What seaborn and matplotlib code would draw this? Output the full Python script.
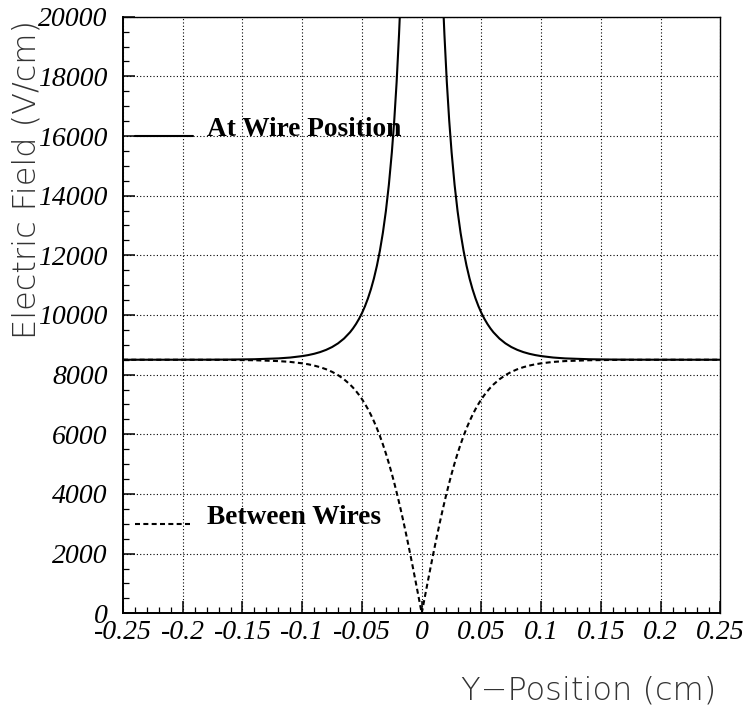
import matplotlib
matplotlib.use("Agg")
import matplotlib.pyplot as plt
from matplotlib.ticker import MultipleLocator
import seaborn as sns
import pandas as pd

# Field strength along a line through a wire (solid) and midway between wires (dashed)
wire_pos = [-0.25, -0.2, -0.18, -0.16, -0.14, -0.12, -0.11, -0.1, -0.095, -0.09,
            -0.085, -0.08, -0.075, -0.07, -0.065, -0.06, -0.0575, -0.055, -0.0525,
            -0.05, -0.0475, -0.045, -0.0425, -0.04, -0.0375, -0.035, -0.0325,
            -0.03, -0.0275, -0.025, -0.023, -0.021, -0.019, -0.018, -0.017,
            0.017, 0.018, 0.019, 0.021, 0.023, 0.025, 0.0275, 0.03, 0.0325, 0.035,
            0.0375, 0.04, 0.0425, 0.045, 0.0475, 0.05, 0.0525, 0.055, 0.0575,
            0.06, 0.065, 0.07, 0.075, 0.08, 0.085, 0.09, 0.095, 0.1, 0.11,
            0.12, 0.14, 0.16, 0.18, 0.2, 0.25]
wire_field = [8500, 8501, 8502, 8506, 8517, 8545, 8574, 8622, 8656, 8700,
              8757, 8831, 8926, 9050, 9211, 9421, 9550, 9698, 9868,
              10064, 10292, 10557, 10865, 11226, 11652, 12156, 12758,
              13483, 14365, 15454, 16518, 17808, 19398, 20335, 21390,
              21390, 20335, 19398, 17808, 16518, 15454, 14365, 13483, 12758, 12156,
              11652, 11226, 10865, 10557, 10292, 10064, 9868, 9698, 9550,
              9421, 9211, 9050, 8926, 8831, 8757, 8700, 8656, 8622, 8574,
              8545, 8517, 8506, 8502, 8501, 8500]

between_pos = [-0.25, -0.2, -0.18, -0.16, -0.14, -0.12, -0.11, -0.1, -0.095, -0.09,
               -0.085, -0.08, -0.075, -0.07, -0.065, -0.06, -0.0575, -0.055,
               -0.0525, -0.05, -0.0475, -0.045, -0.0425, -0.04, -0.0375, -0.035,
               -0.0325, -0.03, -0.0275, -0.025, -0.0225, -0.02, -0.0175, -0.015,
               -0.0125, -0.01, -0.0075, -0.005, -0.0025,
               0.0,
               0.0025, 0.005, 0.0075, 0.01, 0.0125, 0.015, 0.0175, 0.02, 0.0225,
               0.025, 0.0275, 0.03, 0.0325, 0.035, 0.0375, 0.04, 0.0425, 0.045,
               0.0475, 0.05, 0.0525, 0.055, 0.0575, 0.06, 0.065, 0.07, 0.075,
               0.08, 0.085, 0.09, 0.095, 0.1, 0.11, 0.12, 0.14, 0.16, 0.18, 0.2,
               0.25]
between_field = [8500, 8499, 8498, 8494, 8483, 8455, 8427, 8380, 8347, 8304,
                 8250, 8181, 8094, 7984, 7844, 7669, 7566, 7450,
                 7322, 7179, 7020, 6844, 6650, 6436, 6201, 5944,
                 5663, 5359, 5029, 4675, 4296, 3893, 3466, 3017,
                 2548, 2061, 1559, 1046, 525,
                 0,
                 525, 1046, 1559, 2061, 2548, 3017, 3466, 3893, 4296,
                 4675, 5029, 5359, 5663, 5944, 6201, 6436, 6650, 6844,
                 7020, 7179, 7322, 7450, 7566, 7669, 7844, 7984, 8094,
                 8181, 8250, 8304, 8347, 8380, 8427, 8455, 8483, 8494, 8498, 8499,
                 8500]

x_ticks = [-0.25, -0.2, -0.15, -0.1, -0.05, 0, 0.05, 0.1, 0.15, 0.2, 0.25]
x_tick_labels = ["-0.25", "-0.2", "-0.15", "-0.1", "-0.05", "0",
                 "0.05", "0.1", "0.15", "0.2", "0.25"]
y_ticks = [0, 2000, 4000, 6000, 8000, 10000, 12000, 14000, 16000, 18000, 20000]
y_tick_labels = ["0", "2000", "4000", "6000", "8000", "10000",
                 "12000", "14000", "16000", "18000", "20000"]

series_names = ["At Wire Position", "Between Wires"]

wire_df = pd.DataFrame({"y": wire_pos, "E": wire_field})
between_df = pd.DataFrame({"y": between_pos, "E": between_field})

sns.set_style("white")
plt.rcParams["axes.unicode_minus"] = False
plt.rcParams["text.color"] = "black"
plt.rcParams["xtick.color"] = "black"
plt.rcParams["ytick.color"] = "black"

fig = plt.figure(figsize=(7.48, 7.19), dpi=100)
ax = fig.add_axes([0.1644, 0.1470, 0.7988, 0.8298])

dash_style = (0, (2.4, 1.6))

sns.lineplot(data=wire_df, x="y", y="E", ax=ax, color="black", lw=1.5,
             sort=False, estimator=None)
sns.lineplot(data=between_df, x="y", y="E", ax=ax, color="black", lw=1.5,
             linestyle=dash_style, sort=False, estimator=None)

ax.set_xlim(-0.25, 0.25)
ax.set_ylim(0, 20000)
ax.set_xlabel("")
ax.set_ylabel("")

ax.set_xticks(x_ticks)
ax.set_xticklabels(x_tick_labels)
ax.set_yticks(y_ticks)
ax.set_yticklabels(y_tick_labels)
ax.xaxis.set_minor_locator(MultipleLocator(0.01))
ax.yaxis.set_minor_locator(MultipleLocator(500))

ax.tick_params(axis="both", which="both", direction="in", color="black",
               bottom=True, left=True, top=False, right=False)
ax.tick_params(axis="both", which="major", length=8.5, width=1.1,
               labelsize=20, labelcolor="black")
ax.tick_params(axis="both", which="minor", length=4, width=0.9)
ax.tick_params(axis="x", which="major", pad=5)
ax.tick_params(axis="y", which="major", pad=11)
for lab in ax.get_xticklabels() + ax.get_yticklabels():
    lab.set_fontfamily("Liberation Serif")
    lab.set_fontstyle("italic")

ax.grid(True, which="major", color="black", linestyle=(0, (1, 2)), linewidth=0.8)
ax.set_axisbelow(False)
for name, sp in ax.spines.items():
    sp.set_visible(True)
    sp.set_color("black")
    sp.set_linewidth(1.4 if name in ("left", "bottom") else 1.0)

# In-plot key: sample segment followed by its caption
ax.plot([-0.240, -0.1915], [16000, 16000], color="black", lw=1.5)
ax.text(-0.1798, 16000, series_names[0], fontfamily="Liberation Serif",
        fontweight="bold", fontsize=19.7, color="black", ha="left", va="baseline")
ax.plot([-0.240, -0.1915], [3000, 3000], color="black", lw=1.5,
        linestyle=dash_style)
ax.text(-0.1798, 3000, series_names[1], fontfamily="Liberation Serif",
        fontweight="bold", fontsize=19.7, color="black", ha="left", va="baseline")

fig.text(27 / 748, 1 - 20 / 719, "Electric Field (V/cm)", rotation=90,
         ha="center", va="top", fontsize=23, fontfamily="DejaVu Sans",
         fontweight="light", color="#333333")
fig.text(716 / 748, 1 - 690 / 719, "Y\u2212Position (cm)", ha="right",
         va="center", fontsize=23, fontfamily="DejaVu Sans", fontweight="light",
         color="#333333")

fig.savefig("out.png", dpi=100, facecolor="white")
